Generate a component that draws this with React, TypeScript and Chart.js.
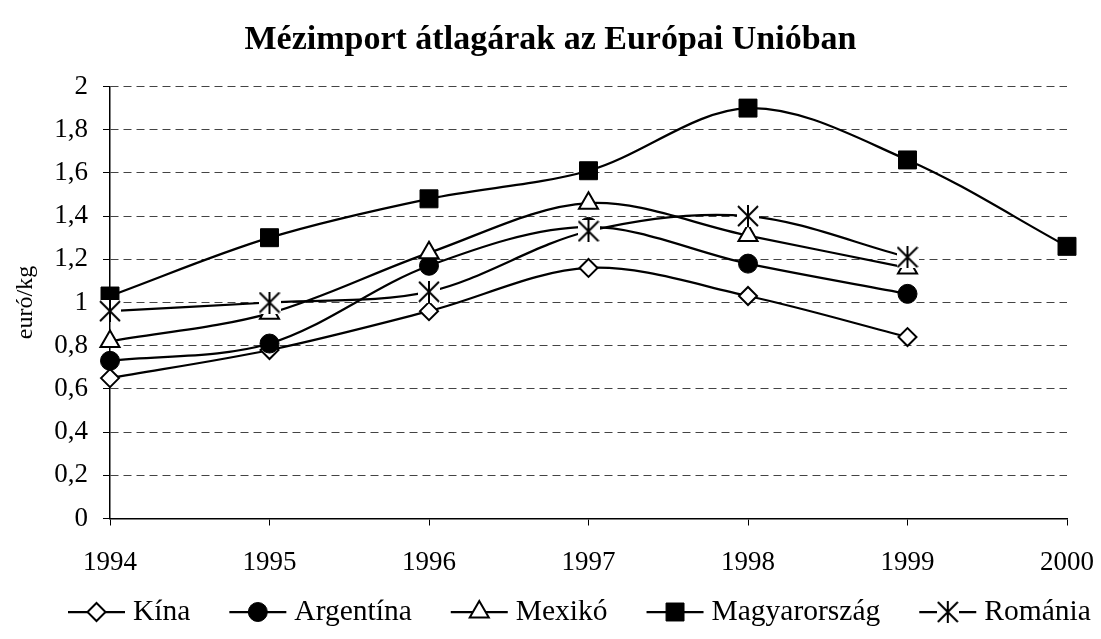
import React, { useEffect, useRef } from 'react';
import { Chart, registerables } from 'chart.js';

Chart.register(...registerables);

const chartTitle = 'Mézimport átlagárak az Európai Unióban';
const yAxisTitle = 'euró/kg';
const years = ['1994', '1995', '1996', '1997', '1998', '1999', '2000'];
const seriesNames = ['Kína', 'Argentína', 'Mexikó', 'Magyarország', 'Románia'];
const kina = [0.65, 0.78, 0.96, 1.16, 1.03, 0.84, null];
const argentina = [0.73, 0.81, 1.17, 1.35, 1.18, 1.04, null];
const mexiko = [0.82, 0.95, 1.23, 1.46, 1.31, 1.16, null];
const magyarorszag = [1.03, 1.3, 1.48, 1.61, 1.9, 1.66, 1.26];
const romania = [0.96, 1.0, 1.05, 1.33, 1.4, 1.21, null];
const yMin = 0;
const yMax = 2;
const yStep = 0.2;

const FONT = '"Liberation Serif", "Times New Roman", serif';
const FS = 27;
const LEGEND_FS = 29.5;

function makeStar(): HTMLCanvasElement {
  const c = document.createElement('canvas');
  c.width = 22;
  c.height = 22;
  const g = c.getContext('2d')!;
  g.fillStyle = '#fff';
  g.fillRect(0, 0, 22, 22);
  g.strokeStyle = '#000';
  g.lineWidth = 2;
  g.beginPath();
  g.moveTo(11, 0);
  g.lineTo(11, 22);
  g.moveTo(1, 1);
  g.lineTo(21, 21);
  g.moveTo(21, 1);
  g.lineTo(1, 21);
  g.stroke();
  return c;
}

function drawMarker(ctx: CanvasRenderingContext2D, ds: any, x: number, y: number) {
  const style = ds.pointStyle;
  const r = ds.pointRadius;
  ctx.save();
  ctx.fillStyle = ds.pointBackgroundColor;
  ctx.strokeStyle = ds.pointBorderColor;
  ctx.lineWidth = ds.pointBorderWidth;
  ctx.beginPath();
  if (style instanceof HTMLCanvasElement) {
    ctx.drawImage(style, x - style.width / 2, y - style.height / 2);
    ctx.restore();
    return;
  }
  if (style === 'rectRot') {
    ctx.moveTo(x - r, y);
    ctx.lineTo(x, y - r);
    ctx.lineTo(x + r, y);
    ctx.lineTo(x, y + r);
    ctx.closePath();
  } else if (style === 'circle') {
    ctx.arc(x, y, r, 0, Math.PI * 2);
  } else if (style === 'triangle') {
    ctx.moveTo(x, y - r);
    ctx.lineTo(x + r * Math.sin((2 * Math.PI) / 3), y - r * Math.cos((2 * Math.PI) / 3));
    ctx.lineTo(x + r * Math.sin((4 * Math.PI) / 3), y - r * Math.cos((4 * Math.PI) / 3));
    ctx.closePath();
  } else if (style === 'rect') {
    const s = Math.SQRT1_2 * r;
    ctx.rect(x - s, y - s, 2 * s, 2 * s);
  }
  ctx.fill();
  ctx.stroke();
  ctx.restore();
}

const legendPlugin = {
  id: 'excelLegend',
  afterDraw(chart: any) {
    const ctx: CanvasRenderingContext2D = chart.ctx;
    ctx.save();
    ctx.font = `${LEGEND_FS}px ${FONT}`;
    const lineLen = 57;
    const gapText = 8;
    const gapItem = 39;
    const items = chart.data.datasets.map((ds: any) => ({ ds, w: ctx.measureText(ds.label).width }));
    let x = 68;
    const y = 612;
    items.forEach(({ ds, w }: any) => {
      ctx.strokeStyle = '#000';
      ctx.lineWidth = 2.25;
      ctx.beginPath();
      ctx.moveTo(x, y);
      ctx.lineTo(x + lineLen, y);
      ctx.stroke();
      drawMarker(ctx, ds, x + lineLen / 2, y);
      ctx.fillStyle = '#000';
      ctx.textBaseline = 'middle';
      ctx.textAlign = 'left';
      ctx.fillText(ds.label, x + lineLen + gapText, y);
      x += lineLen + gapText + w + gapItem;
    });
    ctx.restore();
  },
};

function fmt(v: number): string {
  return String(Number(v.toFixed(1))).replace('.', ',');
}

export default function App() {
  const ref = useRef<HTMLCanvasElement>(null);
  useEffect(() => {
    if (!ref.current) return;
    const star = makeStar();
    const base = {
      borderColor: '#000',
      borderWidth: 2.25,
      tension: 0.33,
      pointBorderColor: '#000',
      fill: false,
    };
    const chart = new Chart(ref.current, {
      type: 'line',
      data: {
        labels: years,
        datasets: [
          { ...base, label: seriesNames[0], data: kina, pointStyle: 'rectRot', pointRadius: 9, pointBackgroundColor: '#fff', pointBorderWidth: 2, order: 4 },
          { ...base, label: seriesNames[1], data: argentina, pointStyle: 'circle', pointRadius: 9.5, pointBackgroundColor: '#000', pointBorderWidth: 1, order: 3 },
          { ...base, label: seriesNames[2], data: mexiko, pointStyle: 'triangle', pointRadius: 11, pointBackgroundColor: '#fff', pointBorderWidth: 2, order: 2 },
          { ...base, label: seriesNames[3], data: magyarorszag, pointStyle: 'rect', pointRadius: 12.7, pointBackgroundColor: '#000', pointBorderWidth: 1, order: 1 },
          { ...base, label: seriesNames[4], data: romania, pointStyle: star, pointRadius: 11, pointBackgroundColor: '#fff', pointBorderWidth: 0, order: 0 },
        ] as any,
      },
      options: {
        animation: false,
        responsive: false,
        devicePixelRatio: 1,
        layout: { padding: { left: 0, right: 0, top: 0, bottom: 60.5 } },
        plugins: {
          legend: { display: false },
          tooltip: { enabled: false },
          title: {
            display: true,
            text: chartTitle,
            color: '#000',
            font: { family: FONT, size: 34, weight: 'bold', lineHeight: 1.2 },
            padding: { top: 20, bottom: 25.7 },
          },
        },
        scales: {
          x: {
            type: 'category',
            offset: false,
            grid: {
              display: true,
              drawOnChartArea: false,
              drawTicks: true,
              tickLength: 7,
              tickColor: '#000',
              tickWidth: 1,
            },
            border: { display: true, color: '#000', width: 1.5 },
            ticks: {
              color: '#000',
              font: { family: FONT, size: FS },
              padding: 21,
              maxRotation: 0,
              autoSkip: false,
            },
            afterFit: (s: any) => {
              s.height = 60;
              s.paddingLeft = 0;
              s.paddingRight = 34;
            },
          },
          y: {
            min: yMin,
            max: yMax,
            grid: {
              color: '#444',
              lineWidth: 1,
              drawTicks: true,
              tickLength: 7,
              tickColor: '#000',
              tickWidth: 1,
              tickBorderDash: [],
            },
            border: { display: true, color: '#000', width: 1.5, dash: [8, 5] },
            ticks: {
              stepSize: yStep,
              color: '#000',
              font: { family: FONT, size: FS },
              padding: 15,
              callback: (v: any) => fmt(Number(v)),
            },
            title: {
              display: true,
              text: yAxisTitle,
              color: '#000',
              font: { family: FONT, size: 24 },
              padding: { top: 11, bottom: 0 },
            },
            afterFit: (s: any) => {
              s.width = 110;
            },
          },
        },
      },
      plugins: [legendPlugin],
    } as any);
    return () => chart.destroy();
  }, []);
  return (
    <div style={{ position: 'absolute', left: 0, top: 0, width: 1101, height: 639, background: '#fff' }}>
      <canvas ref={ref} width={1101} height={639} />
    </div>
  );
}
